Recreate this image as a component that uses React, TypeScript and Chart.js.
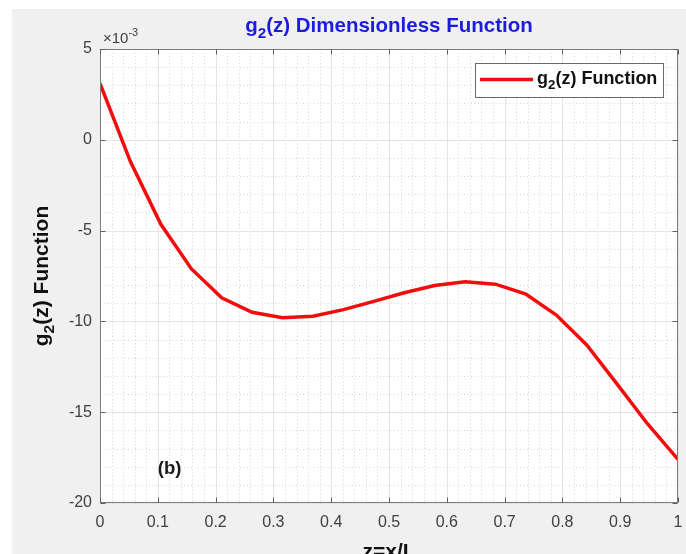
import React, { useEffect, useRef } from 'react';
import { Chart, registerables } from 'chart.js';

Chart.register(...registerables);

// z = x/L sample positions (20 evenly spaced stations)
const zValues = [
  0, 0.0526, 0.1053, 0.1579, 0.2105, 0.2632, 0.3158, 0.3684, 0.4211, 0.4737,
  0.5263, 0.5789, 0.6316, 0.6842, 0.7368, 0.7895, 0.8421, 0.8947, 0.9474, 1,
];

// g2(z) in units of 1e-3
const g2Values = [
  3.1, -1.2, -4.65, -7.1, -8.7, -9.5, -9.8, -9.72, -9.35, -8.9,
  -8.42, -8.02, -7.82, -7.95, -8.5, -9.65, -11.3, -13.45, -15.65, -17.6,
];

const xTicks = [0, 0.1, 0.2, 0.3, 0.4, 0.5, 0.6, 0.7, 0.8, 0.9, 1];
const yTicks = [-20, -15, -10, -5, 0, 5];

const titleRuns = [{ text: 'g' }, { text: '2', sub: true }, { text: '(z) Dimensionless Function' }];
const yLabelRuns = [{ text: 'g' }, { text: '2', sub: true }, { text: '(z) Function' }];
const legendRuns = [{ text: 'g' }, { text: '2', sub: true }, { text: '(z) Function' }];
const xLabel = 'z=x/L';
const panelTag = '(b)';

const FONT = '"Liberation Sans", Arial, Helvetica, sans-serif';

type Run = { text: string; sub?: boolean };

function drawRuns(
  ctx: CanvasRenderingContext2D,
  runs: Run[],
  x: number,
  y: number,
  size: number,
  weight: string,
  align: 'left' | 'center',
  color: string,
  subScale = 0.74,
  subDy = 0.3,
) {
  const mainFont = `${weight} ${size}px ${FONT}`;
  const subFont = `${weight} ${size * subScale}px ${FONT}`;
  const widths = runs.map((r) => {
    ctx.font = r.sub ? subFont : mainFont;
    return ctx.measureText(r.text).width;
  });
  const total = widths.reduce((a, b) => a + b, 0);
  let cx = align === 'center' ? x - total / 2 : x;
  ctx.fillStyle = color;
  ctx.textBaseline = 'alphabetic';
  ctx.textAlign = 'left';
  runs.forEach((r, i) => {
    ctx.font = r.sub ? subFont : mainFont;
    ctx.fillText(r.text, cx, r.sub ? y + size * subDy : y);
    cx += widths[i];
  });
}

const frame = {
  id: 'axesFrame',
  beforeDraw(chart: any) {
    const { ctx, chartArea: a, scales } = chart;
    const xs = scales.x;
    const ys = scales.y;
    ctx.save();
    ctx.fillStyle = '#f0f0f0';
    ctx.fillRect(0, 0, chart.width, chart.height);
    ctx.fillStyle = '#ffffff';
    ctx.fillRect(a.left, a.top, a.right - a.left, a.bottom - a.top);

    // minor grid (dotted)
    ctx.lineWidth = 1;
    ctx.strokeStyle = '#d6d6d6';
    ctx.setLineDash([1, 2.5]);
    for (let i = 1; i < 50; i++) {
      if (i % 5 === 0) continue;
      const px = Math.round(xs.getPixelForValue(i * 0.02)) + 0.5;
      ctx.beginPath();
      ctx.moveTo(px, a.top);
      ctx.lineTo(px, a.bottom);
      ctx.stroke();
    }
    for (let v = -19; v < 5; v++) {
      if (v % 5 === 0) continue;
      const py = Math.round(ys.getPixelForValue(v)) + 0.5;
      ctx.beginPath();
      ctx.moveTo(a.left, py);
      ctx.lineTo(a.right, py);
      ctx.stroke();
    }
    // major grid
    ctx.setLineDash([]);
    ctx.strokeStyle = '#e4e4e4';
    xTicks.forEach((t) => {
      const px = Math.round(xs.getPixelForValue(t)) + 0.5;
      ctx.beginPath();
      ctx.moveTo(px, a.top);
      ctx.lineTo(px, a.bottom);
      ctx.stroke();
    });
    yTicks.forEach((t) => {
      const py = Math.round(ys.getPixelForValue(t)) + 0.5;
      ctx.beginPath();
      ctx.moveTo(a.left, py);
      ctx.lineTo(a.right, py);
      ctx.stroke();
    });
    ctx.restore();
  },
  afterDatasetsDraw(chart: any) {
    const { ctx, chartArea: a, scales } = chart;
    const xs = scales.x;
    const ys = scales.y;
    ctx.save();

    // axes box and inward ticks
    const L = Math.round(a.left) + 0.5;
    const R = Math.round(a.right) - 0.5;
    const T = Math.round(a.top) + 0.5;
    const B = Math.round(a.bottom) - 0.5;
    ctx.strokeStyle = '#7c7c7c';
    ctx.lineWidth = 1;
    ctx.strokeRect(L, T, R - L, B - T);
    const tl = 5;
    ctx.strokeStyle = '#5e5e5e';
    xTicks.forEach((t) => {
      const px = Math.round(xs.getPixelForValue(t)) + 0.5;
      ctx.beginPath();
      ctx.moveTo(px, B);
      ctx.lineTo(px, B - tl);
      ctx.moveTo(px, T);
      ctx.lineTo(px, T + tl);
      ctx.stroke();
    });
    yTicks.forEach((t) => {
      const py = Math.round(ys.getPixelForValue(t)) + 0.5;
      ctx.beginPath();
      ctx.moveTo(L, py);
      ctx.lineTo(L + tl, py);
      ctx.moveTo(R, py);
      ctx.lineTo(R - tl, py);
      ctx.stroke();
    });

    // exponent marker above the y axis
    ctx.fillStyle = '#404040';
    ctx.textAlign = 'left';
    ctx.textBaseline = 'alphabetic';
    ctx.font = `15px ${FONT}`;
    const base = '\u00d710';
    ctx.fillText(base, a.left + 3, a.top - 6.5);
    const bw = ctx.measureText(base).width;
    ctx.font = `11px ${FONT}`;
    ctx.fillText('-3', a.left + 3 + bw, a.top - 13);

    // title
    drawRuns(ctx, titleRuns, (a.left + a.right) / 2, a.top - 17, 20.5, 'bold', 'center', '#1c1cdc');

    // y-axis title
    ctx.save();
    ctx.translate(36, (a.top + a.bottom) / 2);
    ctx.rotate(-Math.PI / 2);
    drawRuns(ctx, yLabelRuns, 0, 0, 21, 'bold', 'center', '#111111');
    ctx.restore();

    // x-axis title
    ctx.font = `bold 21px ${FONT}`;
    ctx.fillStyle = '#111111';
    ctx.textAlign = 'center';
    ctx.fillText(xLabel, (a.left + a.right) / 2, a.bottom + 55);

    // panel tag
    ctx.font = `bold 18.5px ${FONT}`;
    ctx.fillStyle = '#1a1a1a';
    ctx.textAlign = 'left';
    ctx.textBaseline = 'middle';
    ctx.fillText(panelTag, xs.getPixelForValue(0.1), ys.getPixelForValue(-18.1));

    // legend
    const lx = a.right - 203;
    const ly = a.top + 14;
    const lw = 188;
    const lh = 34;
    ctx.fillStyle = '#ffffff';
    ctx.fillRect(lx, ly, lw, lh);
    ctx.strokeStyle = '#6a6a6a';
    ctx.lineWidth = 1;
    ctx.strokeRect(Math.round(lx) + 0.5, Math.round(ly) + 0.5, lw, lh);
    ctx.strokeStyle = '#f20d0d';
    ctx.lineWidth = 3.5;
    ctx.beginPath();
    ctx.moveTo(lx + 5, ly + 16.5);
    ctx.lineTo(lx + 58, ly + 16.5);
    ctx.stroke();
    drawRuns(ctx, legendRuns, lx + 62, ly + 20.8, 18, 'bold', 'left', '#111111');

    ctx.restore();
  },
};

export default function App() {
  const canvasRef = useRef<HTMLCanvasElement | null>(null);

  useEffect(() => {
    const canvas = canvasRef.current;
    if (!canvas) return;
    Chart.defaults.font.family = FONT;
    const chart = new Chart(canvas, {
      type: 'line',
      data: {
        datasets: [
          {
            label: 'g2(z) Function',
            data: zValues.map((z, i) => ({ x: z, y: g2Values[i] })),
            borderColor: '#f20d0d',
            borderWidth: 3.5,
            pointRadius: 0,
            tension: 0,
            fill: false,
          },
        ],
      },
      options: {
        animation: false,
        responsive: false,
        maintainAspectRatio: false,
        events: [],
        layout: { padding: { top: 40, right: 8, left: 0, bottom: 0 } },
        plugins: {
          legend: { display: false },
          title: { display: false },
          tooltip: { enabled: false },
        },
        scales: {
          x: {
            type: 'linear',
            min: 0,
            max: 1,
            grid: { display: false, drawTicks: false },
            border: { display: false },
            afterFit: (s: any) => {
              s.height = 51;
              s.paddingLeft = 0;
              s.paddingRight = 0;
            },
            afterBuildTicks: (s: any) => {
              s.ticks = xTicks.map((v) => ({ value: v }));
            },
            ticks: {
              padding: 10,
              color: '#404040',
              font: { size: 16 },
              maxRotation: 0,
              autoSkip: false,
              callback: (v: any) => String(Math.round(Number(v) * 10) / 10),
            },
          },
          y: {
            type: 'linear',
            min: -20,
            max: 5,
            grid: { display: false, drawTicks: false },
            border: { display: false },
            afterFit: (s: any) => {
              s.width = 88;
            },
            afterBuildTicks: (s: any) => {
              s.ticks = yTicks.map((v) => ({ value: v }));
            },
            ticks: {
              padding: 8,
              color: '#404040',
              font: { size: 16 },
              autoSkip: false,
              callback: (v: any) => String(v),
            },
          },
        },
      },
      plugins: [frame],
    });
    return () => chart.destroy();
  }, []);

  return (
    <div style={{ position: 'fixed', left: 12, top: 9, width: 674, height: 545 }}>
      <canvas ref={canvasRef} width={674} height={545} style={{ display: 'block', width: 674, height: 545 }} />
    </div>
  );
}
